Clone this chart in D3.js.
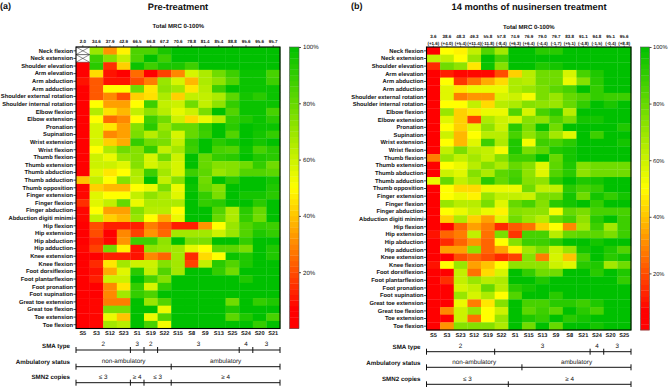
<!DOCTYPE html>
<html lang="en">
<head>
<meta charset="UTF-8">
<title>Total MRC heatmaps</title>
<script src="https://cdn.jsdelivr.net/npm/d3@7"></script>
<style>
  html, body { margin: 0; background: #fff; }
  svg { display: block; font-family: "Liberation Sans", Arial, sans-serif; text-rendering: geometricPrecision; }
  text { fill: #111; }
</style>
</head>
<body>
<div id="container"></div>
<script>
const muscles = ["Neck flexion","Neck extension","Shoulder elevation","Arm elevation","Arm abduction","Arm adduction","Shoulder external rotation","Shoulder internal rotation","Elbow flexion","Elbow extension","Pronation","Supination","Wrist extension","Wrist flexion","Thumb flexion","Thumb extension","Thumb abduction","Thumb adduction","Thumb opposition","Finger extension","Finger flexion","Finger abduction","Abduction digiti minimi","Hip flexion","Hip extension","Hip abduction","Hip adduction","Knee extension","Knee flexion","Foot dorsiflexion","Foot plantarflexion","Foot pronation","Foot supination","Great toe extension","Great toe flexion","Toe extension","Toe flexion"];

const patientsA = ["S5","S3","S12","S23","S1","S19","S22","S15","S8","S9","S13","S25","S24","S20","S21"];
const patientsB = ["S5","S3","S23","S12","S19","S22","S1","S15","S13","S9","S8","S21","S24","S20","S25"];
const totalA = ["2.0","34.6","37.9","42.9","66.5","66.8","67.2","70.6","78.8","81.4","85.4","88.8","95.6","95.6","95.7"];
const totalB = ["3.6","38.6","48.3","49.3","55.8","57.8","74.9","76.9","79.0","79.7","83.8","91.1","94.8","95.1","95.6"];
const changeB = ["(+1.6)","(+4.0)","(+5.4)","(+11.4)","(-11.8)","(-8.4)","(+6.3)","(+6.4)","(-4.4)","(-1.7)","(+5.1)","(-4.8)","(-1.5)","(-0.4)","(+8.8)"];

// one row per muscle, null = not assessed (crossed cell)
const valuesA = [
  [null,70,32,48,85,85,95,100,100,100,100,100,100,100,100],
  [null,88,74,62,85,100,88,100,100,100,100,100,100,100,100],
  [5,92,15,42,98,88,95,95,88,100,100,100,100,100,100],
  [5,44,10,5,25,5,18,30,58,66,78,88,98,98,86],
  [10,22,10,10,20,28,70,58,38,66,72,84,98,98,88],
  [5,22,50,50,78,46,72,68,46,64,88,100,98,98,98],
  [5,22,30,20,42,45,66,42,62,62,66,82,96,92,98],
  [5,50,34,34,50,88,62,60,78,62,72,90,98,98,98],
  [5,65,45,38,62,72,64,55,60,76,100,84,98,98,86],
  [5,50,25,30,50,88,78,60,44,54,64,90,94,98,92],
  [5,58,46,34,74,92,70,80,80,90,100,92,100,98,98],
  [5,58,30,34,76,64,74,58,80,88,100,84,100,96,90],
  [5,58,42,36,90,78,76,62,90,100,92,96,100,96,100],
  [5,50,66,78,74,90,62,68,88,100,86,84,98,86,92],
  [5,60,54,70,74,58,78,60,100,80,90,92,100,94,92],
  [5,60,60,56,74,58,64,58,100,80,74,74,78,90,78],
  [5,56,46,50,66,88,68,58,88,82,70,74,84,84,82],
  [40,62,50,74,64,100,62,74,100,78,100,92,100,100,96],
  [8,42,38,38,50,54,76,54,98,80,74,100,100,100,94],
  [8,56,50,50,62,72,66,56,100,90,76,100,96,96,92],
  [15,56,62,80,54,66,66,66,100,90,92,100,100,92,100],
  [8,50,34,34,74,64,64,50,100,100,84,66,92,80,100],
  [8,62,42,38,70,50,36,54,100,100,80,66,90,78,100],
  [5,20,12,12,12,28,22,12,12,32,50,70,84,90,88],
  [5,20,5,30,18,32,24,68,68,68,60,70,84,94,90],
  [5,14,8,32,88,88,72,100,76,76,100,100,90,100,100],
  [8,18,78,48,10,72,70,68,55,50,82,82,76,100,94],
  [5,5,12,12,10,30,24,68,14,44,50,98,94,100,94],
  [5,14,46,68,60,60,74,68,18,62,92,84,94,100,100],
  [5,10,36,56,92,62,84,68,100,100,90,78,100,100,100],
  [5,12,60,60,100,86,74,100,100,100,100,100,94,100,100],
  [5,5,30,46,90,58,90,100,100,100,100,100,100,100,100],
  [5,5,30,68,90,85,100,100,100,100,100,100,100,100,100],
  [5,8,28,28,100,70,84,100,100,100,100,78,100,90,94],
  [5,8,76,76,100,100,54,100,100,100,100,94,100,100,100],
  [5,8,54,40,100,54,84,100,100,100,100,82,94,100,86],
  [5,8,68,64,100,86,52,100,100,100,100,100,100,90,100]
];

const valuesB = [
  [5,50,48,62,84,68,100,100,92,92,100,100,100,100,100],
  [62,62,50,70,100,86,100,100,100,100,100,100,100,100,100],
  [14,78,72,46,98,74,100,100,94,96,100,100,100,100,100],
  [5,12,8,8,8,20,42,64,78,78,58,86,94,100,100],
  [5,50,16,26,36,44,66,64,78,78,54,74,92,100,100],
  [5,56,46,54,54,54,66,70,76,82,86,100,90,100,100],
  [5,56,28,32,32,58,60,52,76,70,80,84,90,88,88],
  [5,50,50,62,44,64,66,74,72,70,80,90,100,95,100],
  [5,70,42,46,54,54,84,58,86,92,64,100,100,100,100],
  [5,56,42,18,66,60,58,74,72,84,76,96,96,100,100],
  [5,50,42,56,72,60,92,76,98,78,100,100,100,100,94],
  [5,60,38,50,64,64,86,72,82,68,56,100,88,100,100],
  [5,50,38,56,88,66,94,52,88,86,92,100,100,100,96],
  [5,62,76,64,62,52,94,76,82,94,96,100,100,100,100],
  [28,70,62,68,62,74,88,88,100,80,96,100,100,100,100],
  [5,50,54,64,74,66,80,74,56,82,94,74,78,78,78],
  [5,60,56,74,66,82,86,72,56,84,92,72,78,78,78],
  [54,80,62,68,92,80,88,74,72,92,100,94,96,100,100],
  [5,50,44,44,54,54,54,78,62,62,92,86,90,100,100],
  [5,50,54,48,70,62,62,60,76,76,96,78,96,90,96],
  [5,70,64,64,76,56,80,86,74,92,96,100,90,100,100],
  [5,50,54,60,54,48,74,72,72,52,80,76,86,86,86],
  [5,42,66,42,34,56,78,70,64,80,86,72,92,100,88],
  [5,5,24,34,28,14,22,26,42,50,30,68,88,68,88],
  [10,24,28,62,26,76,16,86,86,64,80,82,82,76,88],
  [5,14,24,32,24,50,74,88,88,92,100,100,96,100,100],
  [5,34,34,72,24,34,48,68,76,60,70,96,100,94,84],
  [5,5,20,24,20,14,18,74,28,58,40,86,100,92,96],
  [10,50,70,34,40,50,72,72,72,60,56,92,94,68,78],
  [5,5,62,26,44,58,100,90,78,78,100,100,92,100,94],
  [5,15,62,70,64,66,100,100,94,100,100,100,100,100,90],
  [5,5,58,62,80,64,92,96,100,100,100,100,100,100,100],
  [5,5,70,58,66,50,84,100,100,92,100,100,100,100,100],
  [5,5,54,28,46,74,100,86,86,92,92,88,94,100,100],
  [5,30,60,70,50,60,100,82,88,82,100,92,86,100,100],
  [5,5,60,26,50,70,100,94,90,100,92,96,100,100,100],
  [5,32,74,74,74,66,100,78,100,80,100,100,96,100,100]
];

// bracket rows: column index of each divider, and the label of each span
const smaBreaksA = [0,4,5,6,12,13,15];
const smaLabelsA = ["2","3","2","3","4","3"];
const ambBreaksA = [0,7,15];
const smnBreaksA = [0,4,5,7,15];
const smnLabelsA = ["≤ 3","≥ 4","≤ 3","≥ 4"];
const smaBreaksB = [0,5,12,13,15];
const smaLabelsB = ["2","3","4","3"];
const ambBreaksB = [0,7,15];
const smnBreaksB = [0,6,15];
const smnLabelsB = ["≤ 3","≥ 4"];
const ambLabels = ["non-ambulatory","ambulatory"];
const legendTicks = [20,40,60,80,100];

const W = 668, H = 387;
const svg = d3.select("#container").append("svg").attr("width", W).attr("height", H);

//red stays flat at the bottom, yellow in the middle, green on top
const color = d3.scaleLinear([0,7,50,100], ["#ff0000","#ff0000","#ffff00","#00c000"]);

function panel(o) {
  const g = svg.append("g");
  const x = d3.scaleBand(d3.range(o.patients.length), [o.left, o.left + o.width]);
  const y = d3.scaleBand(muscles, [47, o.bottom]);

  g.append("text").attr("x", o.tagX).attr("y", 9).attr("font-size", 9).attr("font-weight", "bold").text(o.tag);
  g.append("text").attr("x", o.titleX).attr("y", 10).attr("text-anchor", "middle")
    .attr("font-size", 9.3).attr("font-weight", "bold").text(o.title);
  g.append("text").attr("x", o.titleMrcX).attr("y", o.mrcY).attr("text-anchor", "middle")
    .attr("font-size", 6).attr("font-weight", "bold").text("Total MRC 0-100%");

  //cells
  const rows = g.selectAll("g.row").data(o.values).join("g").attr("class", "row")
    .attr("transform", (d, i) => `translate(0,${y(muscles[i])})`);
  rows.selectAll("rect").data(d => d).join("rect")
    .attr("x", (d, i) => x(i)).attr("width", x.bandwidth() + 0.3).attr("height", y.bandwidth() + 0.3)
    .attr("fill", d => d === null ? "#fff" : color(d));
  //crossed cells
  o.values.forEach((r, ri) => r.forEach((v, ci) => {
    if (v !== null) return;
    const x0 = x(ci), x1 = x0 + x.bandwidth(), y0 = y(muscles[ri]), y1 = y0 + y.bandwidth();
    g.append("path").attr("d", `M${x0},${y0}L${x1},${y1}M${x0},${y1}L${x1},${y0}`)
      .attr("stroke", "#222").attr("stroke-width", 0.5).attr("fill", "none");
    g.append("path").attr("d", `M${x0},${y0}H${x1}M${x0},${y1}H${x1}`)
      .attr("stroke", "#222").attr("stroke-width", 0.4).attr("fill", "none");
  }));

  //frame
  g.append("rect").attr("x", o.left).attr("y", 47).attr("width", o.width).attr("height", o.bottom - 47)
    .attr("fill", "none").attr("stroke", "#000").attr("stroke-width", 1.1);

  //muscle names
  const yAx = g.append("g").attr("transform", `translate(${o.left},0)`)
    .call(d3.axisLeft(y).tickSize(2.5).tickPadding(0.5));
  yAx.select(".domain").remove();
  yAx.selectAll("line").attr("stroke-width", 0.7);
  yAx.selectAll("text").attr("font-size", 5.8).attr("font-weight", "bold").attr("font-family", "inherit");

  //patient ids
  const xAx = g.append("g").attr("transform", `translate(0,${o.bottom})`)
    .call(d3.axisBottom(x).tickSize(0).tickPadding(3).tickFormat(i => o.patients[i]));
  xAx.select(".domain").remove();
  xAx.selectAll("text").attr("font-size", 5.6).attr("font-weight", "bold").attr("font-family", "inherit");

  //total scores on top
  const topAx = g.append("g").attr("transform", "translate(0,47)")
    .call(d3.axisTop(x).tickSize(o.change ? 1.5 : 2).tickPadding(o.change ? 1 : 2.2).tickFormat(i => o.change ? o.change[i] : o.total[i]));
  topAx.select(".domain").remove();
  topAx.selectAll("line").attr("stroke-width", 0.5);
  topAx.selectAll("text").attr("font-size", 4.5).attr("font-weight", "bold").attr("font-family", "inherit");
  if (o.change) {
    topAx.selectAll(".tick").append("text").attr("y", -8.7).attr("fill", "#111").attr("text-anchor", "middle")
      .attr("font-size", 4.5).attr("font-weight", "bold").attr("font-family", "inherit").text(i => o.total[i]);
  }

  //colour bar
  const yBar = d3.scaleLinear([0,100], [o.bottom, 47]);
  g.append("g").selectAll("rect").data(d3.range(0, 100, 2)).join("rect")
    .attr("x", o.barX).attr("width", o.barW).attr("y", d => yBar(d + 2)).attr("height", d => yBar(d) - yBar(d + 2) + 0.3)
    .attr("fill", d => color(d + 1));
  g.append("rect").attr("x", o.barX).attr("y", 47).attr("width", o.barW).attr("height", o.bottom - 47)
    .attr("fill", "none").attr("stroke", "#555").attr("stroke-width", 0.6);
  const barAx = g.append("g").attr("transform", `translate(${o.barX + o.barW},0)`)
    .call(d3.axisRight(yBar).tickValues(legendTicks).tickSize(2).tickPadding(o.barPad).tickFormat(d => d + "%"));
  barAx.select(".domain").remove();
  barAx.selectAll("line").attr("stroke-width", 0.7);
  barAx.selectAll("text").attr("font-size", o.barFont).attr("font-family", "inherit");

  //bracket rows under the heat map
  const sx = i => o.left + i * x.step();
  function bracket(name, nameY, lineY, breaks, labels) {
    g.append("text").attr("x", o.left - 6).attr("y", nameY).attr("text-anchor", "end")
      .attr("font-size", 6.2).attr("font-weight", "bold").text(name);
    g.append("line").attr("x1", sx(0)).attr("x2", sx(breaks[breaks.length - 1])).attr("y1", lineY).attr("y2", lineY)
      .attr("stroke", "#111").attr("stroke-width", 1);
    g.selectAll(null).data(breaks).join("line").attr("x1", sx).attr("x2", sx)
      .attr("y1", lineY - 3).attr("y2", lineY + 3).attr("stroke", "#111").attr("stroke-width", 1);
    g.selectAll(null).data(labels).join("text")
      .attr("x", (d, i) => (sx(breaks[i]) + sx(breaks[i + 1])) / 2).attr("y", lineY - 3.6)
      .attr("text-anchor", "middle").attr("font-size", 6.3).text(d => d);
  }
  bracket("SMA type", o.nameY[0], o.lineY[0], o.smaBreaks, o.smaLabels);
  bracket("Ambulatory status", o.nameY[1], o.lineY[1], o.ambBreaks, ambLabels);
  bracket("SMN2 copies", o.nameY[2], o.lineY[2], o.smnBreaks, o.smnLabels);
}

panel({
  tag: "(a)", tagX: 0, title: "Pre-treatment", titleX: 178, titleMrcX: 178.3, mrcY: 27.8,
  left: 76, width: 204, bottom: 328.5, barX: 289.5, barW: 9.5, barPad: 2, barFont: 6.1, values: valuesA,
  patients: patientsA, total: totalA, nameY: [347.8, 363.8, 379.4], lineY: [350, 366.7, 382.7],
  smaBreaks: smaBreaksA, smaLabels: smaLabelsA, ambBreaks: ambBreaksA, smnBreaks: smnBreaksA, smnLabels: smnLabelsA
});
panel({
  tag: "(b)", tagX: 351, title: "14 months of nusinersen treatment", titleX: 529, titleMrcX: 528.8, mrcY: 28.7,
  left: 426.5, width: 204.5, bottom: 330, barX: 640.5, barW: 9, barPad: 1.5, barFont: 5.7, values: valuesB,
  patients: patientsB, total: totalB, change: changeB, nameY: [348.8, 365.1, 381.4], lineY: [351.7, 367.3, 384.3],
  smaBreaks: smaBreaksB, smaLabels: smaLabelsB, ambBreaks: ambBreaksB, smnBreaks: smnBreaksB, smnLabels: smnLabelsB
});
</script>
</body>
</html>
